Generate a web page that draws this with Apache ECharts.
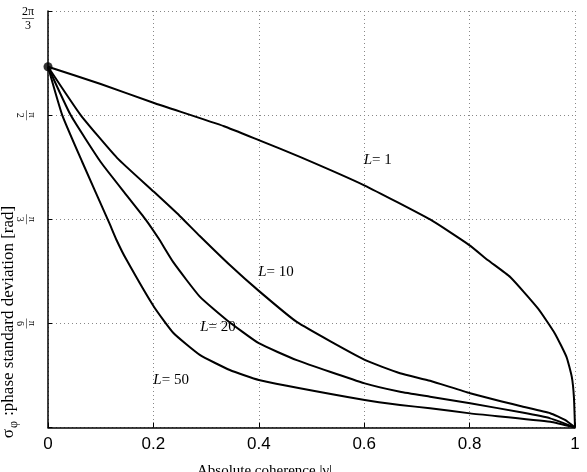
<!DOCTYPE html>
<html>
<head>
<meta charset="utf-8">
<script src="https://cdn.jsdelivr.net/npm/echarts@6/dist/echarts.min.js"></script>
<style>
  html, body { margin: 0; padding: 0; background: #fff; }
  #chart { width: 587px; height: 472px; }
</style>
</head>
<body>
<div id="chart"></div>
<script>
// values: gamma (absolute coherence) and sigma (rad)
var l1Gamma = [0, 0.1, 0.2, 0.334, 0.4, 0.478, 0.6, 0.725, 0.8, 0.835, 0.877, 0.93, 0.962, 0.984, 0.994, 0.998, 1];
var l1Sigma = [1.814, 1.727, 1.633, 1.515, 1.445, 1.361, 1.218, 1.046, 0.916, 0.841, 0.757, 0.598, 0.472, 0.354, 0.253, 0.15, 0];

var l10Gamma = [0, 0.062, 0.131, 0.201, 0.25, 0.288, 0.345, 0.4, 0.472, 0.601, 0.668, 0.725, 0.801, 0.896, 0.953, 0.981, 1];
var l10Sigma = [1.814, 1.571, 1.356, 1.185, 1.064, 0.963, 0.817, 0.687, 0.531, 0.34, 0.273, 0.235, 0.172, 0.108, 0.072, 0.038, 0];

var l20Gamma = [0, 0.043, 0.1, 0.15, 0.185, 0.21, 0.238, 0.288, 0.339, 0.4, 0.472, 0.601, 0.668, 0.725, 0.801, 0.9, 0.953, 1];
var l20Sigma = [1.814, 1.571, 1.335, 1.165, 1.047, 0.95, 0.83, 0.658, 0.541, 0.424, 0.339, 0.222, 0.18, 0.155, 0.122, 0.075, 0.046, 0];

var l50Gamma = [0, 0.027, 0.065, 0.116, 0.13, 0.149, 0.201, 0.238, 0.288, 0.345, 0.4, 0.601, 0.668, 0.725, 0.801, 0.953, 1];
var l50Sigma = [1.814, 1.571, 1.335, 1.03, 0.943, 0.843, 0.607, 0.475, 0.365, 0.289, 0.239, 0.138, 0.113, 0.097, 0.071, 0.029, 0];

// curve labels (text + where they sit)
var labelText = ['1', '10', '20', '50'];
var labelGamma = [0.598, 0.398, 0.288, 0.199];
var labelSigma = [1.345, 0.782, 0.505, 0.239];

var xTickLabels = ['0', '0.2', '0.4', '0.6', '0.8', '1'];
// y ticks at multiples of pi/6: [numerator, denominator]
var yTickLabels = [null, ['π', '6'], ['π', '3'], ['π', '2'], ['2π', '3']];

var STEP = Math.PI / 6;

function pairs(xs, ys) {
  return xs.map(function (x, i) { return [x, ys[i]]; });
}

function tickIndex(v) {
  return Math.round(v / STEP);
}

var curves = [
  { data: pairs(l1Gamma, l1Sigma) },
  { data: pairs(l10Gamma, l10Sigma) },
  { data: pairs(l20Gamma, l20Sigma) },
  { data: pairs(l50Gamma, l50Sigma) }
];

var serif = '"Liberation Serif", "DejaVu Serif", serif';
var sans = '"Liberation Sans", Arial, sans-serif';
var gridLine = { color: '#888', type: [1, 3], width: 1 };

var series = curves.map(function (c, i) {
  return {
    type: 'line',
    data: c.data,
    showSymbol: false,
    smooth: 0.15,
    lineStyle: { color: '#000', width: 2, join: 'round' },
    z: 3,
    markPoint: {
      symbol: 'circle',
      symbolSize: 1,
      itemStyle: { color: 'rgba(0,0,0,0)' },
      label: {
        show: true,
        position: 'right',
        distance: 0,
        formatter: '{i|L}{t|= ' + labelText[i] + '}',
        rich: {
          i: { fontFamily: serif, fontStyle: 'italic', fontSize: 15, color: '#000' },
          t: { fontFamily: serif, fontSize: 15, color: '#000' }
        }
      },
      data: [{ coord: [labelGamma[i], labelSigma[i]] }]
    }
  };
});

// start marker at gamma = 0
series.push({
  type: 'scatter',
  data: [[l1Gamma[0], l1Sigma[0]]],
  symbol: 'circle',
  symbolSize: 9,
  itemStyle: { color: '#000' },
  z: 5
});

var chart = echarts.init(document.getElementById('chart'));

chart.setOption({
  animation: false,
  backgroundColor: '#fff',
  grid: { left: 48, right: 12, top: 11, bottom: 44.5, containLabel: false, outerBoundsMode: 'none' },
  // y axis title, drawn as free text so it can sit low and close to the edge like the original
  graphic: [
    {
      type: 'text',
      x: 9,
      y: 322,
      rotation: Math.PI / 2,
      style: {
        text: '{s|σ}{p|φ}{t| :phase standard deviation [rad]}',
        align: 'center',
        verticalAlign: 'middle',
        rich: {
          s: { fontFamily: serif, fontSize: 17, fill: '#000' },
          p: { fontFamily: serif, fontSize: 12, fill: '#000', padding: [9, 1, 0, 1] },
          t: { fontFamily: serif, fontSize: 17, fill: '#000' }
        }
      }
    }
  ],
  xAxis: {
    type: 'value',
    min: 0,
    max: 1,
    interval: 0.2,
    name: 'Absolute coherence |γ|',
    nameLocation: 'middle',
    nameGap: 36,
    nameTextStyle: { fontFamily: serif, fontSize: 15, color: '#000', padding: [0, 94, 0, 0] },
    axisLine: { lineStyle: { color: '#000', width: 1.5 } },
    axisTick: { inside: true, length: 5, lineStyle: { color: '#000' } },
    splitLine: { show: true, lineStyle: gridLine },
    axisLabel: {
      margin: 8,
      fontFamily: sans,
      fontSize: 17,
      color: '#000',
      formatter: function (v) { return xTickLabels[Math.round(v / 0.2)]; }
    }
  },
  yAxis: [
    {
      type: 'value',
      min: 0,
      max: 4 * STEP,
      interval: STEP,
      axisLine: { show: true, lineStyle: { color: '#000', width: 1.5 } },
      axisTick: { inside: true, length: 4, lineStyle: { color: '#000' } },
      splitLine: { show: true, lineStyle: gridLine },
      axisLabel: {
        margin: 14,
        padding: [16, 0, 0, 0],
        rich: {
          n: { fontFamily: serif, fontSize: 12, color: '#000', lineHeight: 10, align: 'center' },
          b: { fontFamily: serif, fontSize: 12, color: '#000', lineHeight: 3, align: 'center' },
          d: { fontFamily: serif, fontSize: 12, color: '#000', lineHeight: 12, align: 'center' }
        },
        formatter: function (v) {
          var k = tickIndex(v);
          if (k !== 4) return '';
          var f = yTickLabels[k];
          return '{n|' + f[0] + '}\n{b|—}\n{d|' + f[1] + '}';
        }
      }
    },
    {
      type: 'value',
      min: 0,
      max: 4 * STEP,
      interval: STEP,
      position: 'left',
      axisLine: { show: false },
      axisTick: { show: false },
      splitLine: { show: false },
      axisLabel: {
        margin: 12,
        rotate: -90,
        rich: {
          n: { fontFamily: serif, fontSize: 10, color: '#000', lineHeight: 8, align: 'center' },
          b: { fontFamily: serif, fontSize: 10, color: '#000', lineHeight: 3, align: 'center' },
          d: { fontFamily: serif, fontSize: 10, color: '#000', lineHeight: 10, align: 'center' }
        },
        formatter: function (v) {
          var k = tickIndex(v);
          if (k < 1 || k > 3) return '';
          var f = yTickLabels[k];
          return '{n|' + f[0] + '}\n{b|—}\n{d|' + f[1] + '}';
        }
      }
    }
  ],
  series: series
});
</script>
</body>
</html>
